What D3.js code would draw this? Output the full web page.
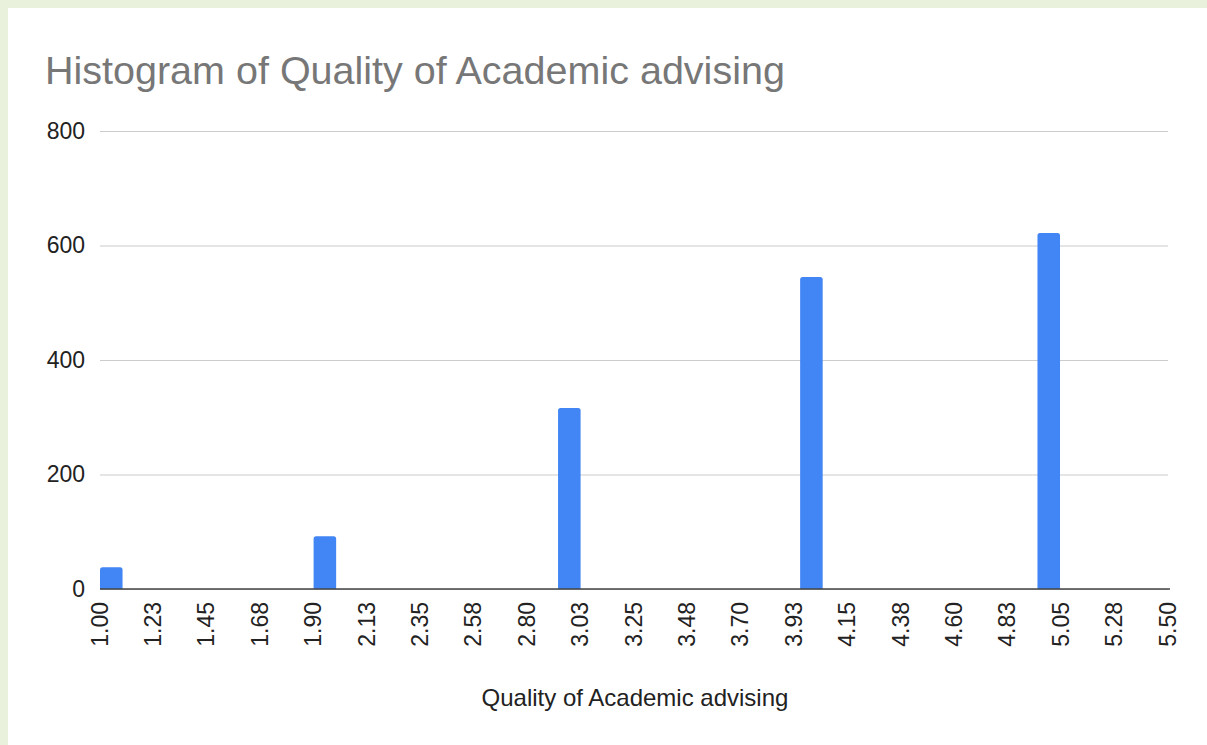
<!DOCTYPE html>
<html>
<head>
<meta charset="utf-8">
<script src="https://cdn.jsdelivr.net/npm/d3@7"></script>
<style>
  html, body { margin: 0; padding: 0; background: #e9f0dc; }
  svg { display: block; }
</style>
</head>
<body>
<svg id="chart"></svg>
<script>
// histogram buckets
const binLow = [1.00, 1.90, 2.93, 3.95, 4.95];
const binHigh = [1.095, 1.995, 3.025, 4.045, 5.045];
const counts = [38, 92, 316, 545, 622];

const yTicks = [0, 200, 400, 600, 800];
const xTickLabels = ["1.00", "1.23", "1.45", "1.68", "1.90", "2.13", "2.35", "2.58", "2.80", "3.03",
  "3.25", "3.48", "3.70", "3.93", "4.15", "4.38", "4.60", "4.83", "5.05", "5.28", "5.50"];

const title = "Histogram of Quality of Academic advising";
const xTitle = "Quality of Academic advising";

const W = 1207, H = 745;
const font = "'Liberation Sans', Arial, sans-serif";

let svg = d3.select("#chart").attr("width", W).attr("height", H);

// white card
svg.append("rect")
  .attr("x", 8).attr("y", 8)
  .attr("width", W - 8).attr("height", H - 8)
  .attr("fill", "#fff");

let xScale = d3.scaleLinear().domain([1, 5.5]).range([100, 1168]);
let yScale = d3.scaleLinear().domain([0, 800]).range([589, 131]);

svg.append("text")
  .attr("x", 45).attr("y", 84)
  .attr("font-family", font)
  .attr("font-size", "39.5px")
  .attr("fill", "#777777")
  .text(title);

// gridlines + y labels
let yAxis = svg.append("g").attr("transform", "translate(100,0)")
  .call(d3.axisLeft(yScale).tickValues(yTicks).tickSize(-(1168 - 100)).tickPadding(15));
yAxis.select(".domain").remove();
yAxis.selectAll(".tick line").attr("stroke", "#cccccc").attr("stroke-width", 1.2);
yAxis.selectAll(".tick text")
  .attr("font-family", font)
  .attr("font-size", "23px")
  .attr("fill", "#222");

// bars with slightly rounded tops
function barPath(x0, x1, y0, y1, r) {
  return "M" + x0 + "," + y0 +
    "V" + (y1 + r) +
    "Q" + x0 + "," + y1 + " " + (x0 + r) + "," + y1 +
    "H" + (x1 - r) +
    "Q" + x1 + "," + y1 + " " + x1 + "," + (y1 + r) +
    "V" + y0 + "Z";
}

svg.selectAll("path.bar")
  .data(counts)
  .enter()
  .append("path")
  .attr("class", "bar")
  .attr("d", (c, i) => barPath(xScale(binLow[i]), xScale(binHigh[i]), yScale(0), yScale(c), 2.5))
  .attr("fill", "#4285f4");

// x axis
let xTickValues = xTickLabels.map((l, i) => 1 + i * 0.225);
let xAxis = svg.append("g").attr("transform", "translate(0," + yScale(0) + ")")
  .call(d3.axisBottom(xScale).tickValues(xTickValues).tickSize(0)
    .tickFormat((d, i) => xTickLabels[i]));
xAxis.select(".domain").attr("stroke", "#444").attr("stroke-width", 1.6)
  .attr("d", "M100,0H1170");
xAxis.selectAll(".tick text")
  .attr("font-family", font)
  .attr("font-size", "23px")
  .attr("fill", "#222")
  .attr("text-anchor", "end")
  .attr("dy", "0.35em")
  .attr("transform", "translate(-1,13) rotate(-90)")
  .attr("x", 0).attr("y", 0);

svg.append("text")
  .attr("x", 635).attr("y", 706)
  .attr("text-anchor", "middle")
  .attr("font-family", font)
  .attr("font-size", "24px")
  .attr("fill", "#222")
  .text(xTitle);
</script>
</body>
</html>
